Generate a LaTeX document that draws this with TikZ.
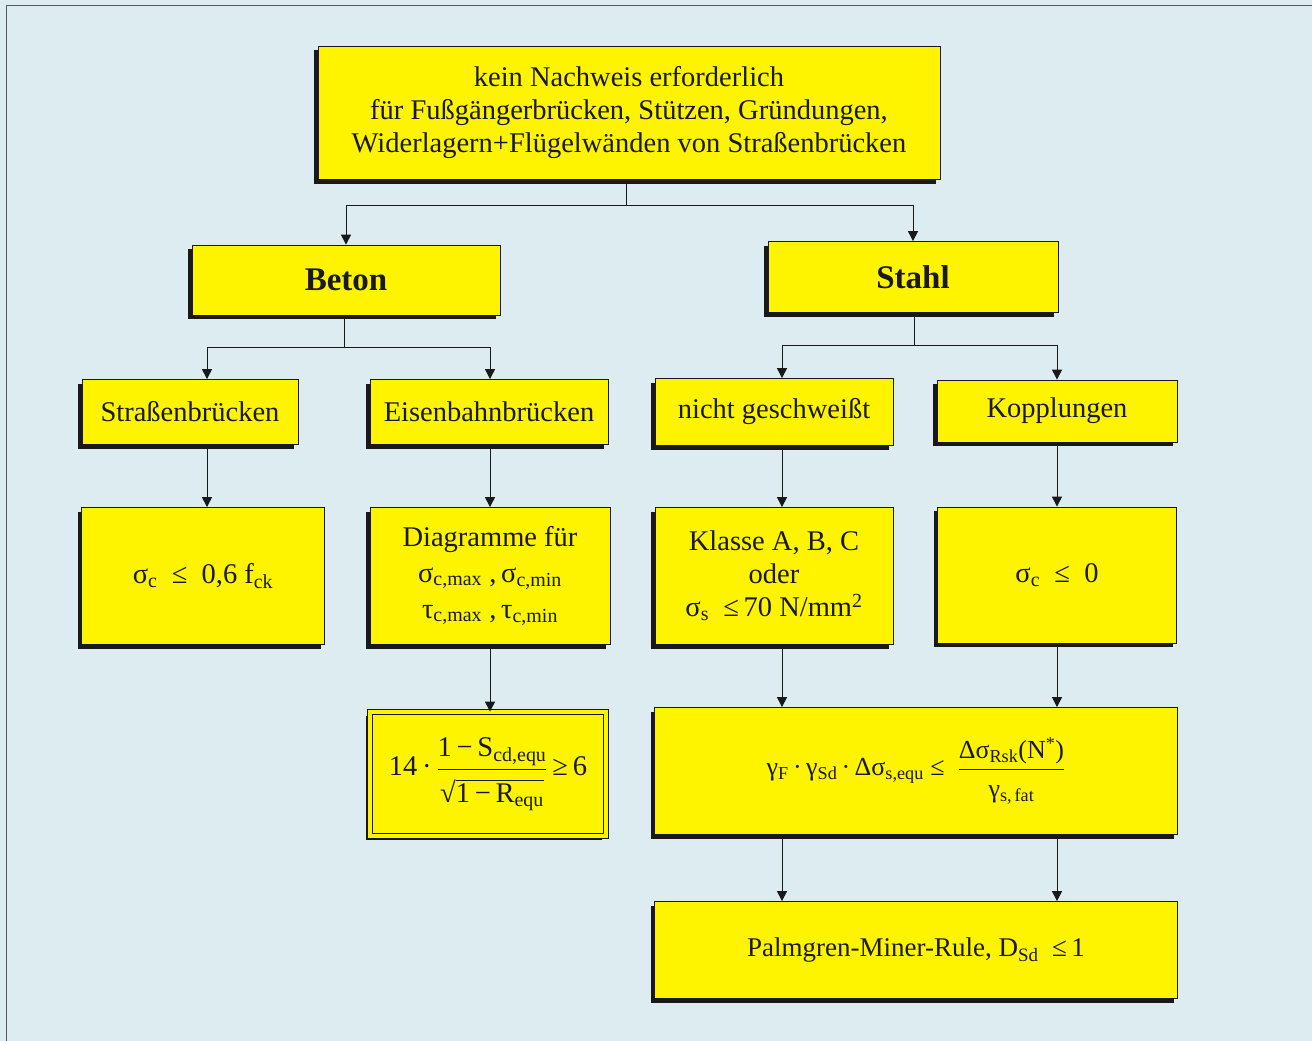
\documentclass[tikz,border=0pt]{standalone}
\usepackage{fontspec}
\setmainfont{Liberation Serif}
\usepackage{amsmath}
\usetikzlibrary{arrows.meta,shadows}

\definecolor{bgblue}{RGB}{220,236,241}
\definecolor{boxyellow}{RGB}{255,244,0}
\definecolor{inkblack}{RGB}{25,25,25}

\newcommand{\lowidx}[1]{\textsubscript{#1}}

\tikzset{
  box/.style={draw=inkblack, line width=0.8pt, fill=boxyellow, align=center,
    inner sep=2pt, text=inkblack,
    drop shadow={shadow xshift=-4pt, shadow yshift=-4pt, fill=inkblack, opacity=1},
    font=\fontsize{28.5}{33}\selectfont},
  conn/.style={draw=inkblack, line width=1pt},
  arrow/.style={conn, -{Triangle[length=10pt,width=10pt]}}
}

\begin{document}
\begin{tikzpicture}[x=1pt,y=-1pt]
    % Draw the background
    \useasboundingbox (0,0) rectangle (1312,1041);
    \fill[bgblue] (0,0) rectangle (1312,1041);
    \draw[gray!70!black, line width=1pt] (6,1041) -- (6,6) -- (1312,6);

    % Columns of the lower rows
    \coordinate (c1) at (207,0);
    \coordinate (c2) at (490,0);
    \coordinate (c3) at (782,0);
    \coordinate (c4) at (1057,0);

    % Draw the top box
    \node[box, minimum width=622pt, minimum height=133pt] (top) at (629,113)
      {kein Nachweis erforderlich\\für Fußgängerbrücken, Stützen, Gründungen,\\Widerlagern+Flügelwänden von Straßenbrücken};

    % Draw the material boxes
    \node[box, minimum width=308pt, minimum height=70pt, font=\fontsize{33}{38}\selectfont\bfseries] (beton) at (346,280) {Beton};
    \node[box, minimum width=290pt, minimum height=71pt, font=\fontsize{33}{38}\selectfont\bfseries] (stahl) at (913,277) {Stahl};

    % Draw the second row
    \node[box, minimum width=216pt, minimum height=65pt] (strasse) at (190,412) {Straßenbrücken};
    \node[box, minimum width=238pt, minimum height=65pt] (eisen) at (489,412) {Eisenbahnbrücken};
    \node[box, minimum width=238pt, minimum height=67pt] (nicht) at (774,412) {nicht geschweißt};
    \node[box, minimum width=240pt, minimum height=62pt] (kopp) at (1057,411) {Kopplungen};

    % Draw the third row
    \node[box, minimum width=243pt, minimum height=137pt] (sigc) at (203,576)
      {σ\lowidx{c}\ \ ≤\ \ 0,6 f\lowidx{ck}};
    \node[box, minimum width=240pt, minimum height=137pt] (diag) at (490,576)
      {Diagramme für\\[3pt]σ\lowidx{c,max}\ ,\,σ\lowidx{c,min}\\[3pt]τ\lowidx{c,max}\ ,\,τ\lowidx{c,min}};
    \node[box, minimum width=238pt, minimum height=137pt] (klasse) at (774,576)
      {Klasse A, B, C\\oder\\σ\lowidx{s}\ \ ≤\,70 N/mm\textsuperscript{2}};
    \node[box, minimum width=239pt, minimum height=136pt] (sigz) at (1057,575)
      {\raisebox{4pt}{σ\lowidx{c}\ \ ≤\ \ 0}};

    % Draw the fatigue checks
    \node[box, double=boxyellow, double distance=4pt, minimum width=236pt, minimum height=124pt] (beweis) at (488,774)
      {14\,·\,$\dfrac{\text{1\,−\,S\lowidx{cd,equ}}\rule[-8pt]{0pt}{0pt}}{\rule{0pt}{30pt}\text{√}\overline{\text{1\,−\,R\lowidx{equ}}}}$\,≥\,6};
    \node[box, minimum width=523pt, minimum height=127pt, font=\fontsize{26}{30}\selectfont] (gamma) at (916,771)
      {γ\lowidx{F}\,·\,γ\lowidx{Sd}\,·\,Δσ\lowidx{s,equ}\ ≤\ \ $\dfrac{\text{Δσ\lowidx{Rsk}(N\textsuperscript{*})}\rule[-5pt]{0pt}{0pt}}{\rule{0pt}{24pt}\text{γ\lowidx{s,\,fat}}}$};
    \node[box, minimum width=523pt, minimum height=97pt, font=\fontsize{27}{31}\selectfont] (palm) at (916,950)
      {Palmgren-Miner-Rule, D\lowidx{Sd}\ \ ≤\,1};

    % Draw the connectors from the top box
    \coordinate (topsplit) at (626,205);
    \draw[conn] (top.south -| topsplit) -- (topsplit);
    \draw[arrow] (topsplit) -| (beton.north);
    \draw[arrow] (topsplit) -| (stahl.north);

    % Draw the connectors below Beton and Stahl
    \coordinate (betonsplit) at (344,347);
    \draw[conn] (beton.south -| betonsplit) -- (betonsplit);
    \draw[arrow] (betonsplit) -| (strasse.north -| c1);
    \draw[arrow] (betonsplit) -| (eisen.north -| c2);
    \coordinate (stahlsplit) at (914,345);
    \draw[conn] (stahl.south -| stahlsplit) -- (stahlsplit);
    \draw[arrow] (stahlsplit) -| (nicht.north -| c3);
    \draw[arrow] (stahlsplit) -| (kopp.north -| c4);

    % Draw the vertical arrows
    \draw[arrow] (strasse.south -| c1) -- (sigc.north -| c1);
    \draw[arrow] (eisen.south -| c2) -- (diag.north -| c2);
    \draw[arrow] (nicht.south -| c3) -- (klasse.north -| c3);
    \draw[arrow] (kopp.south -| c4) -- (sigz.north -| c4);
    \draw[arrow] (diag.south -| c2) -- (beweis.north -| c2);
    \draw[arrow] (klasse.south -| c3) -- (gamma.north -| c3);
    \draw[arrow] (sigz.south -| c4) -- (gamma.north -| c4);
    \draw[arrow] (gamma.south -| c3) -- (palm.north -| c3);
    \draw[arrow] (gamma.south -| c4) -- (palm.north -| c4);
\end{tikzpicture}
\end{document}
